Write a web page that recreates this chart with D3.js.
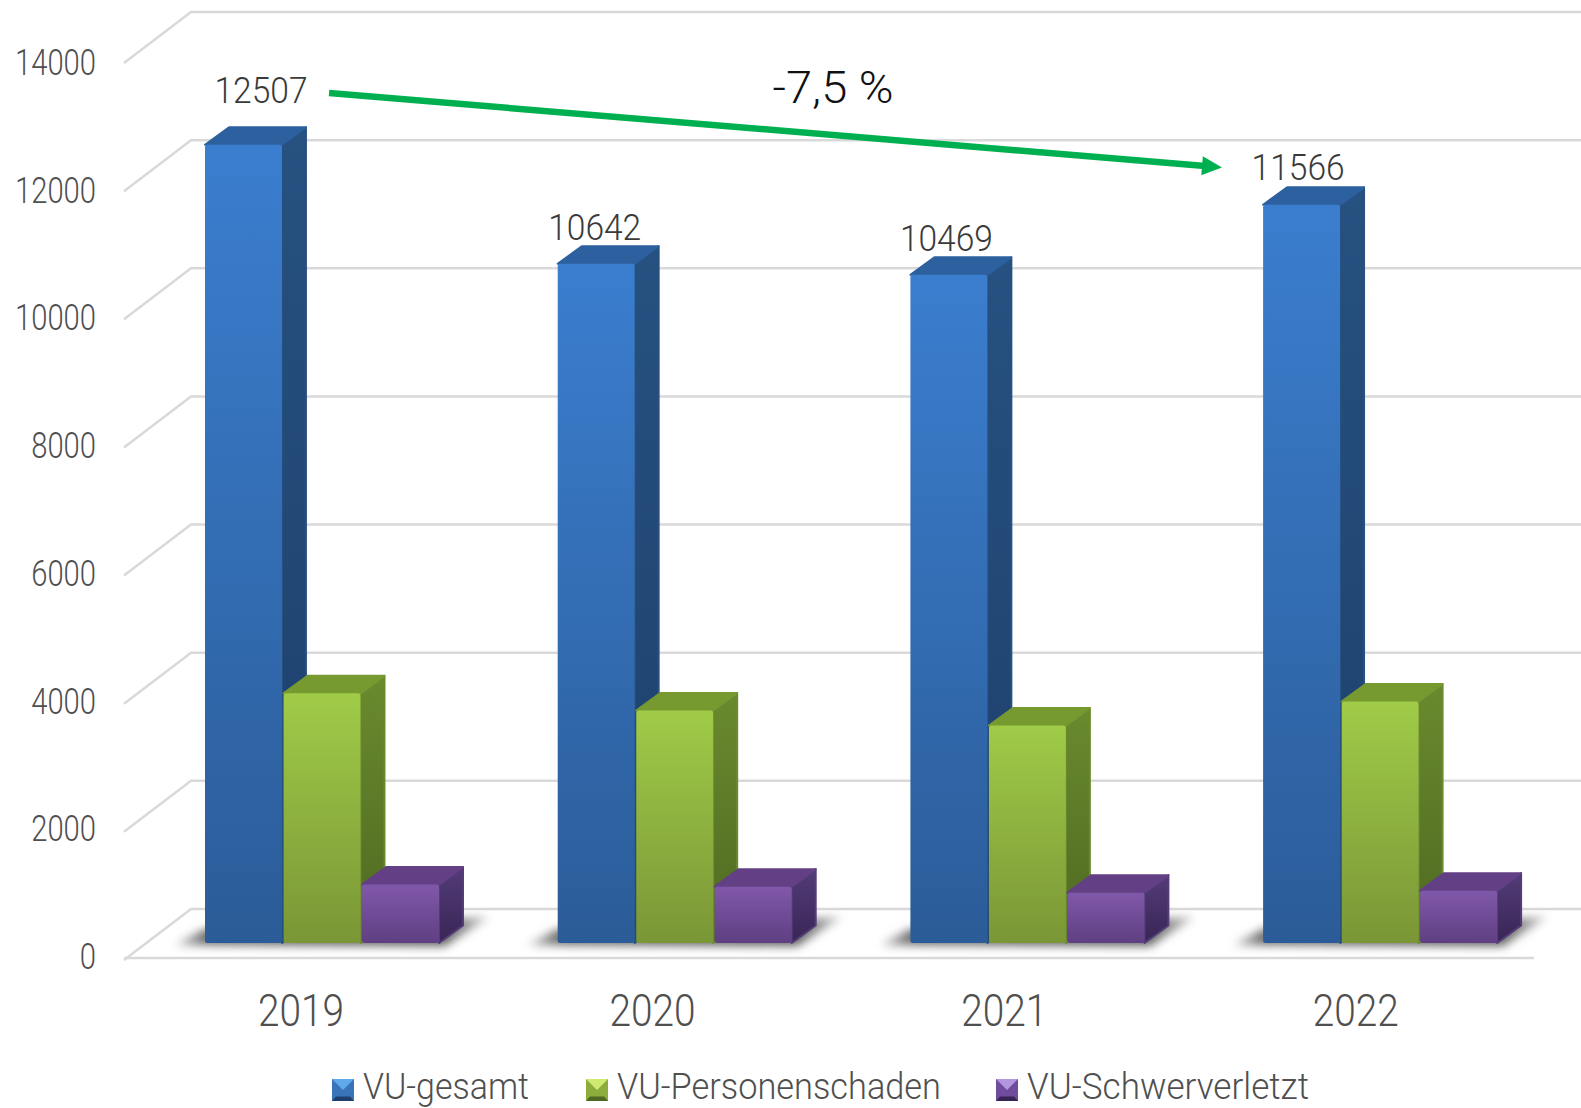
<!DOCTYPE html>
<html>
<head>
<meta charset="utf-8">
<style>
  html, body { margin: 0; background: #fff; }
  text { font-family: Roboto, "Open Sans", sans-serif; font-weight: 300; fill: #4f4f4f; }
</style>
<script src="https://cdn.jsdelivr.net/npm/d3@7"></script>
</head>
<body>
<div id="container"></div>
<script>
  const years = ['2019', '2020', '2021', '2022'];
  const seriesNames = ['VU-gesamt', 'VU-Personenschaden', 'VU-Schwerverletzt'];
  const gesamt = [12507, 10642, 10469, 11566];
  const personen = [3912, 3644, 3407, 3785];
  const schwer = [915, 883, 789, 820];
  const yTicks = [0, 2000, 4000, 6000, 8000, 10000, 12000, 14000];
  const changeLabel = '-7,5 %';

  const width = 1581;
  const height = 1108;

  const svg = d3.select('#container').append('svg')
    .attr('width', width)
    .attr('height', height)
    .style('display', 'block');

  const defs = svg.append('defs');

  const palette = [
    { front: ['#3b7ecf', '#2b5c98'], side: ['#265180', '#1e3f6c'], top: '#2d609e', hi: '#5fa8ec', low: '#3a74b8' },
    { front: ['#a0cb48', '#7a9636'], side: ['#6a8a2e', '#4e6921'], top: '#779a30', hi: '#cfea70', low: '#8cac3c' },
    { front: ['#8058aa', '#5f3f82'], side: ['#533c78', '#392555'], top: '#634085', hi: '#b097e0', low: '#6f4c9c' }
  ];

  const addGrad = (id, [a, b]) => {
    const g = defs.append('linearGradient').attr('id', id)
      .attr('x1', 0).attr('y1', 0).attr('x2', 0).attr('y2', 1);
    g.append('stop').attr('offset', 0).attr('stop-color', a);
    g.append('stop').attr('offset', 1).attr('stop-color', b);
  };
  palette.forEach((p, i) => {
    addGrad('front' + i, p.front);
    addGrad('side' + i, p.side);
  });
  defs.append('filter').attr('id', 'blur')
    .attr('x', '-20%').attr('y', '-100%').attr('width', '140%').attr('height', '300%')
    .append('feGaussianBlur').attr('stdDeviation', 5);
  const shade = defs.append('linearGradient').attr('id', 'shade');
  [[0, '#c4c4c4'], [0.1, '#6a6a6a'], [0.85, '#5c5c5c'], [1, '#c8c8c8']].forEach(([o, c]) => {
    shade.append('stop').attr('offset', o).attr('stop-color', c);
  });

  // front plane of the axis, the wall sits up and to the right of it
  const y = d3.scaleLinear().domain([0, 14000]).range([960, 63]);
  const yLabel = d3.scaleLinear().domain([0, 14000]).range([969, 75]);
  const depthX = 67;
  const depthY = -51;

  // bars stand a little behind the front plane
  const yBar = d3.scaleLinear().domain([0, 14000]).range([943, 49.5]);
  const barDx = 24;
  const barDy = -17.5;

  const x0 = d3.scaleBand().domain(years)
    .range([205, 205 + 3 * 352.7 + 234])
    .paddingInner((352.7 - 234) / 352.7);
  const x1 = d3.scaleBand().domain(seriesNames).range([0, x0.bandwidth()]).paddingInner(0.02);
  const xCategory = d3.scalePoint().domain(years).range([301, 301 + 3 * 351.6]);

  // grid
  const gridColor = '#d9d9d9';
  const grid = svg.append('g')
    .attr('fill', 'none')
    .attr('stroke', gridColor)
    .attr('stroke-width', 2.5);

  grid.selectAll('path').data(yTicks).join('path')
    .attr('d', d => `M${124},${y(d)} L${124 + depthX},${y(d) + depthY} L${width},${y(d) + depthY}`);
  grid.append('line')
    .attr('x1', 124).attr('x2', 1534)
    .attr('y1', 958).attr('y2', 958);

  // tick labels
  const fitText = (sel, size, w) => sel
    .attr('font-size', size)
    .attr('textLength', w)
    .attr('lengthAdjust', 'spacingAndGlyphs');

  svg.append('g').selectAll('text').data(yTicks).join('text')
    .attr('x', 96)
    .attr('y', d => yLabel(d))
    .attr('text-anchor', 'end')
    .text(d => d)
    .call(fitText, 37, d => String(d).length * 16.2);

  svg.append('g').selectAll('text').data(years).join('text')
    .attr('x', d => xCategory(d))
    .attr('y', 1026)
    .attr('text-anchor', 'middle')
    .text(d => d)
    .call(fitText, 45, 86);

  // floor shadows
  svg.append('g').selectAll('path').data(years).join('path')
    .attr('d', d => {
      const l = x0(d);
      const r = l + x0.bandwidth();
      return `M${l - 30},${yBar(0) + 2} L${l},${yBar(0) - 14} L${r + 50},${yBar(0) - 26} L${r + 6},${yBar(0) + 3} Z`;
    })
    .attr('fill', 'url(#shade)')
    .attr('filter', 'url(#blur)');

  // bars
  const allSeries = [gesamt, personen, schwer];
  const groups = svg.append('g').selectAll('g').data(years).join('g')
    .attr('transform', d => `translate(${x0(d)},0)`);

  groups.each(function (year, yi) {
    const g = d3.select(this);
    seriesNames.forEach((name, si) => {
      const v = allSeries[si][yi];
      const l = x1(name);
      const r = l + x1.bandwidth();
      const t = yBar(v);
      const b = yBar(0);
      const bar = g.append('g')
        .attr('stroke-linejoin', 'round')
        .attr('stroke-width', 2);
      bar.append('path')
        .attr('d', `M${r},${t} L${r + barDx},${t + barDy} L${r + barDx},${b + barDy} L${r},${b} Z`)
        .attr('fill', `url(#side${si})`)
        .attr('stroke', palette[si].side[0]);
      bar.append('path')
        .attr('d', `M${l},${t} L${l + barDx},${t + barDy} L${r + barDx},${t + barDy} L${r},${t} Z`)
        .attr('fill', palette[si].top)
        .attr('stroke', palette[si].top);
      bar.append('rect')
        .attr('x', l).attr('y', t)
        .attr('width', r - l).attr('height', b - t)
        .attr('rx', 2.5)
        .attr('fill', `url(#front${si})`);
    });
  });

  // value labels, the first one was moved by hand in the original
  const labelNudge = [[56, -42], [37, -24], [36, -24], [35, -25]];
  svg.append('g').selectAll('text').data(gesamt).join('text')
    .attr('x', (d, i) => x0(years[i]) + labelNudge[i][0])
    .attr('y', (d, i) => yBar(d) + labelNudge[i][1])
    .attr('text-anchor', 'middle')
    .style('fill', '#3a3a3a')
    .text(d => d)
    .call(fitText, 37, 93);

  // change arrow
  const arrowGreen = '#00b050';
  const ax1 = 329, ay1 = 93, ax2 = 1222, ay2 = 167.5;
  const angle = Math.atan2(ay2 - ay1, ax2 - ax1) * 180 / Math.PI;
  svg.append('line')
    .attr('x1', ax1).attr('y1', ay1)
    .attr('x2', ax2 - 14).attr('y2', ay2 - 1.2)
    .attr('stroke', arrowGreen)
    .attr('stroke-width', 6.5);
  svg.append('path')
    .attr('d', 'M0,0 L-20,-9.5 L-20,9.5 Z')
    .attr('transform', `translate(${ax2},${ay2}) rotate(${angle})`)
    .attr('fill', arrowGreen);

  svg.append('text')
    .attr('x', 833)
    .attr('y', 103)
    .attr('text-anchor', 'middle')
    .style('fill', '#111')
    .text(changeLabel)
    .call(fitText, 44, 121);

  // legend
  const legendX = [332, 586, 996];
  const legendW = [166, 324, 282];
  const legend = svg.append('g').selectAll('g').data(seriesNames).join('g')
    .attr('transform', (d, i) => `translate(${legendX[i]},1079)`);
  const sw = 22;
  legend.append('rect')
    .attr('width', sw).attr('height', sw)
    .attr('fill', (d, i) => palette[i].low);
  legend.append('path')
    .attr('d', `M0,${sw} L${sw * 0.18},${sw * 0.8} L${sw * 0.82},${sw * 0.8} L${sw},${sw} Z`)
    .attr('fill', (d, i) => palette[i].side[1]);
  legend.append('path')
    .attr('d', `M0,0 L${sw},0 L${sw / 2},${sw * 0.5} Z`)
    .attr('fill', (d, i) => palette[i].hi);
  legend.append('text')
    .attr('x', 31)
    .attr('y', 20)
    .text(d => d)
    .call(fitText, 36.5, (d, i) => legendW[i]);
</script>
</body>
</html>
